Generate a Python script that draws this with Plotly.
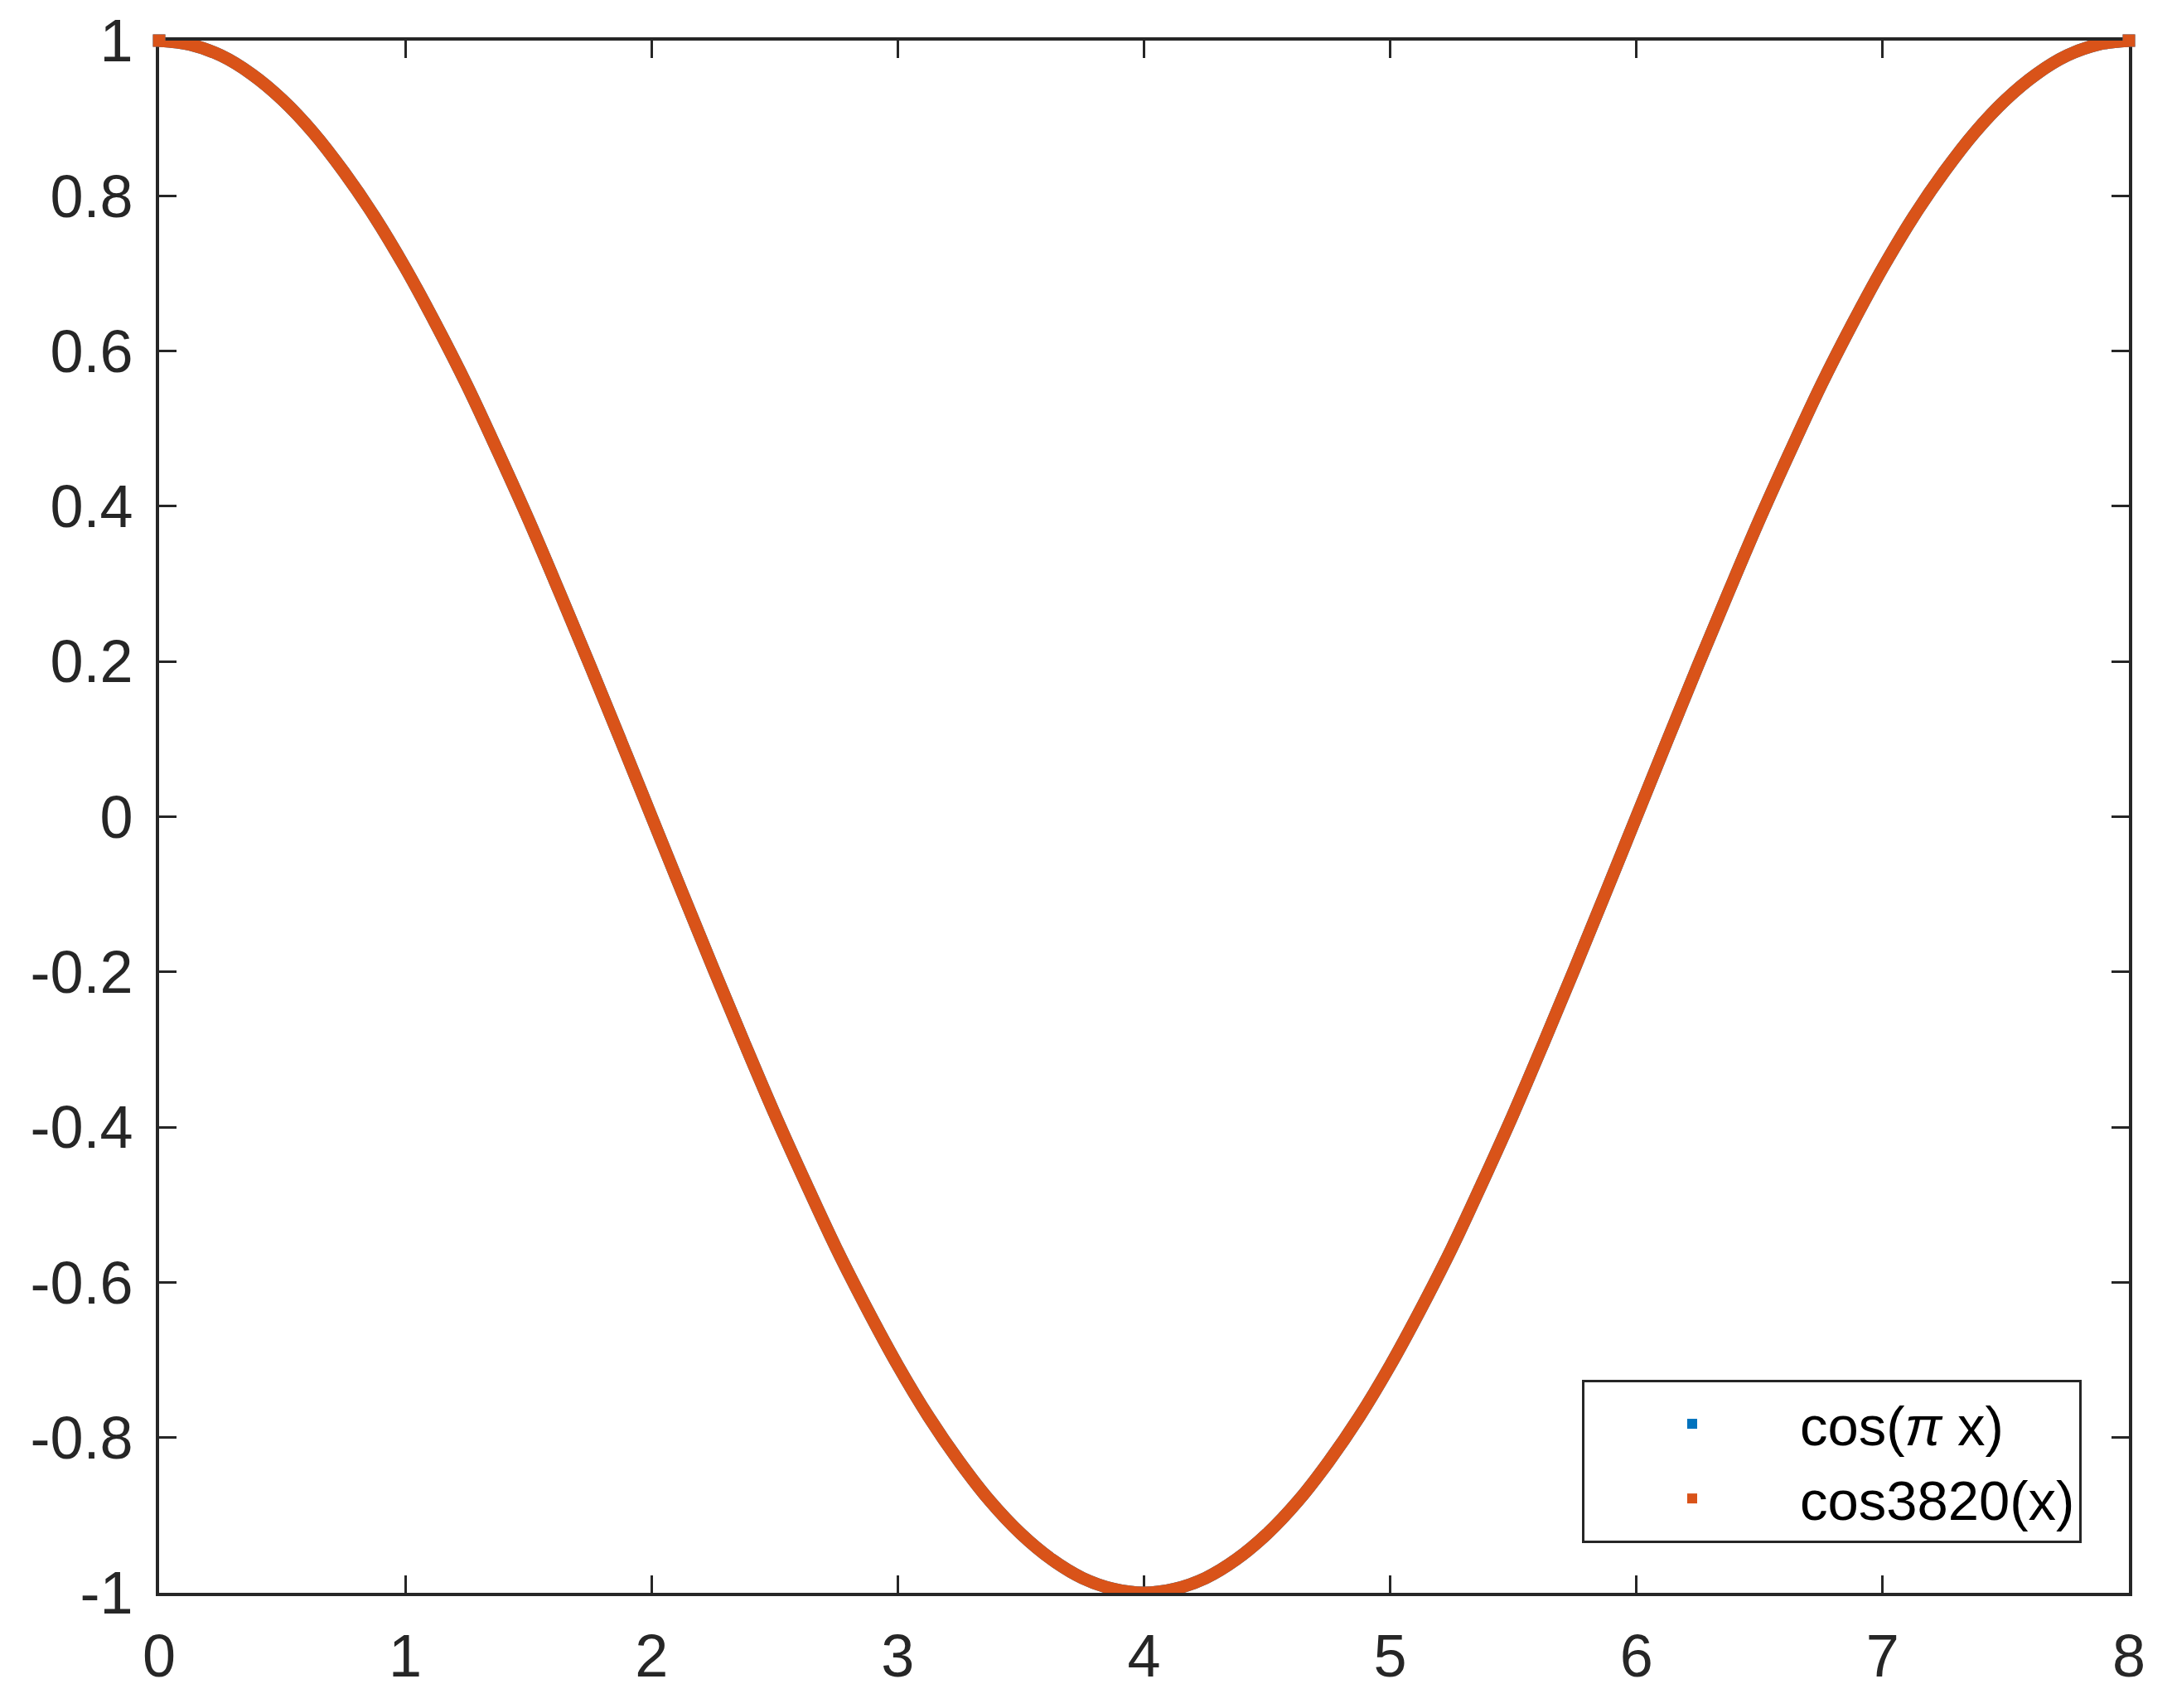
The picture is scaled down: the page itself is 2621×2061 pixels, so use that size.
"""
cos(pi x) vs cos3820(x) comparison plot.
"""
from __future__ import annotations

import plotly.graph_objects as go

# sample points (step 0.125)
x_vals = [
    0, 0.125, 0.25, 0.375, 0.5, 0.625, 0.75, 0.875, 1, 1.125, 1.25, 1.375, 1.5, 1.625, 1.75, 1.875,
    2, 2.125, 2.25, 2.375, 2.5, 2.625, 2.75, 2.875, 3, 3.125, 3.25, 3.375, 3.5, 3.625, 3.75, 3.875,
    4, 4.125, 4.25, 4.375, 4.5, 4.625, 4.75, 4.875, 5, 5.125, 5.25, 5.375, 5.5, 5.625, 5.75, 5.875,
    6, 6.125, 6.25, 6.375, 6.5, 6.625, 6.75, 6.875, 7, 7.125, 7.25, 7.375, 7.5, 7.625, 7.75, 7.875,
    8,
]
cos_pi_x = [
    1.0, 0.995, 0.981, 0.957, 0.924, 0.882, 0.831, 0.773, 0.707, 0.634, 0.556, 0.471, 0.383, 0.290, 0.195, 0.098,
    0.0, -0.098, -0.195, -0.290, -0.383, -0.471, -0.556, -0.634, -0.707, -0.773, -0.831, -0.882, -0.924, -0.957, -0.981, -0.995,
    -1.0, -0.995, -0.981, -0.957, -0.924, -0.882, -0.831, -0.773, -0.707, -0.634, -0.556, -0.471, -0.383, -0.290, -0.195, -0.098,
    0.0, 0.098, 0.195, 0.290, 0.383, 0.471, 0.556, 0.634, 0.707, 0.773, 0.831, 0.882, 0.924, 0.957, 0.981, 0.995,
    1.0,
]
# second series lies exactly on top of the first
cos3820_x = [
    1.0, 0.995, 0.981, 0.957, 0.924, 0.882, 0.831, 0.773, 0.707, 0.634, 0.556, 0.471, 0.383, 0.290, 0.195, 0.098,
    0.0, -0.098, -0.195, -0.290, -0.383, -0.471, -0.556, -0.634, -0.707, -0.773, -0.831, -0.882, -0.924, -0.957, -0.981, -0.995,
    -1.0, -0.995, -0.981, -0.957, -0.924, -0.882, -0.831, -0.773, -0.707, -0.634, -0.556, -0.471, -0.383, -0.290, -0.195, -0.098,
    0.0, 0.098, 0.195, 0.290, 0.383, 0.471, 0.556, 0.634, 0.707, 0.773, 0.831, 0.882, 0.924, 0.957, 0.981, 0.995,
    1.0,
]

series_names = ["cos(<i>π</i> x)", "cos3820(x)"]
series_colors = ["#0072BD", "#D95319"]

x_ticks = [0, 1, 2, 3, 4, 5, 6, 7, 8]
y_ticks = [-1, -0.8, -0.6, -0.4, -0.2, 0, 0.2, 0.4, 0.6, 0.8, 1]
y_tick_text = ["-1", "-0.8", "-0.6", "-0.4", "-0.2", "0", "0.2", "0.4", "0.6", "0.8", "1"]

W, H = 2621, 2061
# page body has an 8px margin, margins below compensate for it
L, R, T, B = 184, 60, 41, 147
INK = "#262626"
FONT = "Liberation Sans, Arial, Helvetica, sans-serif"
LW = 15

fig = go.Figure()
for name, ys, color in zip(series_names, [cos_pi_x, cos3820_x], series_colors):
    fig.add_trace(go.Scatter(
        x=x_vals, y=ys, mode="lines", name=name,
        line=dict(color=color, width=LW, shape="spline", smoothing=1.0),
        showlegend=False, hoverinfo="skip",
    ))
    # square end caps (the marker ends stick past the axes in the original)
    fig.add_trace(go.Scatter(
        x=[x_vals[0], x_vals[-1]], y=[ys[0], ys[-1]], mode="markers",
        marker=dict(symbol="square", size=LW, color=color, line=dict(width=0)),
        cliponaxis=False, showlegend=False, hoverinfo="skip",
    ))
    # legend entry: small square marker only
    fig.add_trace(go.Scatter(
        x=[None], y=[None], mode="markers", name=name,
        marker=dict(symbol="square", size=12, color=color),
    ))

axis_common = dict(
    showline=True, linecolor=INK, linewidth=4, mirror="ticks",
    ticks="inside", ticklen=21, tickwidth=3, tickcolor=INK,
    showgrid=False, zeroline=False, layer="below traces",
    automargin=False, ticklabeloverflow="allow",
    tickfont=dict(family=FONT, size=72, color=INK),
)

plot_w = W - L - R
plot_h = H - T - B

fig.update_layout(
    width=W, height=H,
    margin={"l": L, "r": R, "t": T, "b": B},
    paper_bgcolor="white", plot_bgcolor="white",
    font=dict(family=FONT, color=INK),
    xaxis=dict(range=[0, 8], tickvals=x_ticks, ticklabelstandoff=11, **axis_common),
    yaxis=dict(range=[-1, 1], tickvals=y_ticks, ticktext=y_tick_text,
               ticklabelstandoff=13, **axis_common),
    legend=dict(
        x=(2512 - 192) / plot_w, y=(1922 - 1862) / plot_h,
        xanchor="right", yanchor="bottom",
        bordercolor=INK, borderwidth=3, bgcolor="white",
        font=dict(family=FONT, size=67, color="black"),
        itemwidth=250,
    ),
)

fig.write_html("out.html")
